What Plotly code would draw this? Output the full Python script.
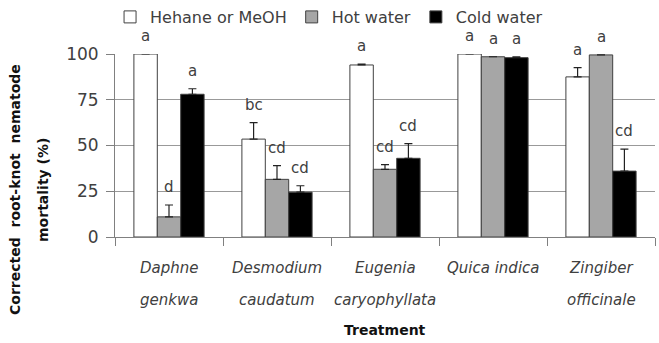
import plotly.graph_objects as go

categories = ["Daphne genkwa", "Desmodium caudatum", "Eugenia caryophyllata", "Quica indica", "Zingiber officinale"]
label_line1 = ["Daphne", "Desmodium", "Eugenia", "Quica indica", "Zingiber"]
label_line2 = ["genkwa", "caudatum", "caryophyllata", "", "officinale"]

series_names = ["Hehane or MeOH", "Hot water", "Cold water"]
hexane_vals = [100, 53.5, 94, 100, 87.5]
hot_vals = [11, 31.5, 37, 98.5, 99.5]
cold_vals = [78, 24.5, 43, 98, 36]
hexane_err = [0, 9, 0.5, 0, 5]
hot_err = [6.5, 7.5, 2.5, 0, 0]
cold_err = [3, 3.5, 8, 0.5, 12]
hexane_letters = ["a", "bc", "a", "a", "a"]
hot_letters = ["d", "cd", "cd", "a", "a"]
cold_letters = ["a", "cd", "cd", "a", "cd"]

y_ticks = [0, 25, 50, 75, 100]

colors = ["#ffffff", "#a6a6a6", "#000000"]
values = [hexane_vals, hot_vals, cold_vals]
errs = [hexane_err, hot_err, cold_err]
letters = [hexane_letters, hot_letters, cold_letters]

FONT = "DejaVu Sans"
TXT = "#404040"
BARGAP = 0.35

fig = go.Figure()
for name, col, v, e in zip(series_names, colors, values, errs):
    fig.add_trace(go.Bar(
        name=name, x=categories, y=v,
        marker=dict(color=col, line=dict(color="#404040", width=1)),
        error_y=dict(type="data", symmetric=False, array=e, arrayminus=[0]*len(e),
                     color="#222222", thickness=1.2, width=4),
    ))

bw = (1 - BARGAP) / 3
for k in range(3):
    off = (k - 1) * bw
    for i, cat in enumerate(categories):
        fig.add_annotation(x=i + off, y=values[k][i] + errs[k][i], xref="x", yref="y",
                           text=letters[k][i], showarrow=False, yanchor="bottom", yshift=7,
                           font=dict(family=FONT, size=15, color=TXT))

for i, cat in enumerate(categories):
    fig.add_annotation(x=i, y=0, xref="x", yref="paper", text=label_line1[i],
                       showarrow=False, yanchor="middle", yshift=-31,
                       font=dict(family=FONT, size=15, color=TXT, style="italic"))
    if label_line2[i]:
        fig.add_annotation(x=i, y=0, xref="x", yref="paper", text=label_line2[i],
                           showarrow=False, yanchor="middle", yshift=-63,
                           font=dict(family=FONT, size=15, color=TXT, style="italic"))

fig.add_annotation(x=0, y=0.257, xref="paper", yref="paper", text="<b>Corrected  root-knot  nematode</b>",
                   textangle=-90, showarrow=False, xanchor="center", yanchor="middle", xshift=-100,
                   font=dict(family=FONT, size=14, color="#111111"))
fig.add_annotation(x=0, y=0.257, xref="paper", yref="paper", text="<b>mortality (%)</b>",
                   textangle=-90, showarrow=False, xanchor="center", yanchor="middle", xshift=-72,
                   font=dict(family=FONT, size=14, color="#111111"))
fig.add_annotation(x=0.5, y=0, xref="paper", yref="paper", text="<b>Treatment</b>",
                   showarrow=False, yanchor="middle", yshift=-93,
                   font=dict(family=FONT, size=14, color="#111111"))

fig.update_layout(
    width=659, height=343,
    margin=dict(l=115, r=4, t=54, b=106, autoexpand=False),
    barmode="group", bargap=BARGAP, bargroupgap=0,
    plot_bgcolor="white", paper_bgcolor="white",
    font=dict(family=FONT, size=15, color=TXT),
    showlegend=True,
    legend=dict(orientation="h", x=0.167, xref="container", xanchor="left", y=1.0, yref="container", yanchor="top",
                font=dict(family=FONT, size=16, color=TXT),
                itemwidth=30, tracegroupgap=0, bgcolor="rgba(0,0,0,0)"),
    xaxis=dict(showticklabels=False, ticks="outside", tickson="boundaries", ticklen=8,
               tickcolor="#808080", showline=True, linecolor="#808080", linewidth=1,
               showgrid=False),
    yaxis=dict(range=[0, 100], tickvals=y_ticks, ticks="outside", ticklen=8, tickcolor="#808080",
               showline=True, linecolor="#808080", linewidth=1, showgrid=True,
               gridcolor="#999999", gridwidth=1, zeroline=False, ticklabelstandoff=4,
               tickfont=dict(family=FONT, size=17, color=TXT)),
)

fig.write_html("out.html")
